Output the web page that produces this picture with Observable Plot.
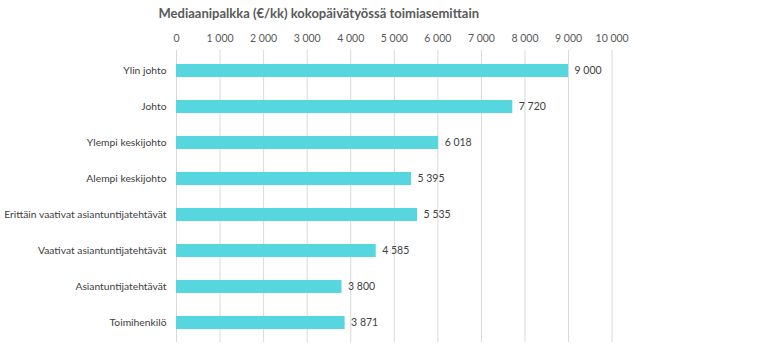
<!DOCTYPE html>
<html><head><meta charset="utf-8">
<script src="https://cdn.jsdelivr.net/npm/d3@7"></script>
<script src="https://cdn.jsdelivr.net/npm/@observablehq/plot@0.6"></script>
<style>
body{margin:0;background:#fff;}
svg{font-family:Lato, "Open Sans", sans-serif;}
</style></head>
<body><div id="chart"></div>
<script>
const categories = ["Ylin johto","Johto","Ylempi keskijohto","Alempi keskijohto","Erittäin vaativat asiantuntijatehtävät","Vaativat asiantuntijatehtävät","Asiantuntijatehtävät","Toimihenkilö"];
const values = [9000, 7720, 6018, 5395, 5535, 4585, 3800, 3871];
const xTicks = [0,1000,2000,3000,4000,5000,6000,7000,8000,9000,10000];
const title = "Mediaanipalkka (€/kk) kokopäivätyössä toimiasemittain";

const data = categories.map((c,i)=>({cat:c, value:values[i]}));
const fmt = v => d3.format(",")(v).replace(/,/g, " ");

const chart = Plot.plot({
  width: 768, height: 351,
  marginLeft: 176, marginRight: 156.4, marginTop: 50, marginBottom: 9,
  style: {fontFamily: "Lato, 'Open Sans', sans-serif", background: "#fff"},
  x: {domain: [0, 10000], axis: null},
  y: {domain: categories, range: [62.4, 330.4], paddingInner: 0.652, paddingOuter: 0, axis: null},
  marks: [
    Plot.ruleX(xTicks, {stroke: "#d9d9d9", strokeWidth: 1}),
    Plot.axisX({anchor: "top", ticks: xTicks, tickSize: 0, tickPadding: 9, tickFormat: fmt, label: null, fontSize: 10.5, fill: "#595959"}),
    Plot.barX(data, {x: "value", y: "cat", fill: "#56d7e0"}),
    Plot.text(data, {x: "value", y: "cat", text: d => fmt(d.value), textAnchor: "start", dx: 6, fontSize: 10.5, fill: "#404040"}),
    Plot.text(data, {x: 0, y: "cat", text: "cat", textAnchor: "end", dx: -10, fontSize: 10.3, fill: "#404040"}),
    Plot.text([title], {frameAnchor: "top-left", dx: -18, dy: -42, text: d => d, fontSize: 13, fontWeight: "bold", fill: "#595959", textAnchor: "start", lineAnchor: "top"})
  ]
});
document.getElementById("chart").appendChild(chart);
</script></body></html>
